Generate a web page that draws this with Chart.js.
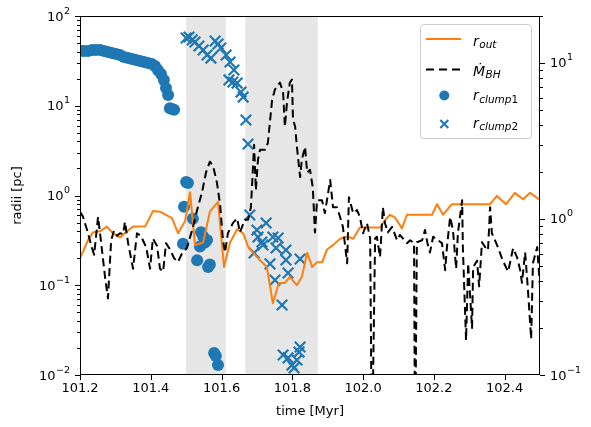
<!DOCTYPE html>
<html>
<head>
<meta charset="utf-8">
<script src="https://cdn.jsdelivr.net/npm/chart.js@4.4.0/dist/chart.umd.min.js"></script>
<style>
  html, body { margin: 0; padding: 0; background: #fff; }
  #wrap { width: 591px; height: 427px; position: relative; }
</style>
</head>
<body>
<div id="wrap"><canvas id="radiiChart"></canvas></div>
<script>
// Tick positions
const timeTicks = [101.2, 101.4, 101.6, 101.8, 102.0, 102.2, 102.4];
const radiusTicks = [0.01, 0.1, 1, 10, 100];
const mdotTicks = [0.1, 1, 10];

// Shaded intervals [Myr]
const shadeStart = [101.5, 101.667];
const shadeEnd = [101.612, 101.872];

// Outer radius r_out [pc]
const rOutTime = [101.200, 101.223, 101.237, 101.257, 101.276, 101.293, 101.313, 101.333, 101.350, 101.384,
    101.406, 101.426, 101.460, 101.477, 101.497, 101.511, 101.525, 101.548, 101.567, 101.590,
    101.607, 101.624, 101.644, 101.661, 101.675, 101.689, 101.709, 101.728, 101.745, 101.762,
    101.779, 101.793, 101.813, 101.827, 101.842, 101.856, 101.870, 101.884, 101.898, 101.915,
    101.935, 101.955, 101.972, 101.991, 102.048, 102.062, 102.076, 102.090, 102.110, 102.124,
    102.195, 102.209, 102.226, 102.251, 102.359, 102.378, 102.404, 102.429, 102.452, 102.472, 102.500];
const rOutValues = [0.20, 0.32, 0.39, 0.40, 0.45, 0.38, 0.34, 0.40, 0.45, 0.45,
    0.67, 0.66, 0.56, 0.38, 0.52, 1.09, 0.28, 0.30, 0.66, 0.85,
    0.16, 0.30, 0.42, 0.38, 0.27, 0.23, 0.19, 0.16, 0.063, 0.106,
    0.106, 0.124, 0.10, 0.124, 0.23, 0.16, 0.18, 0.18, 0.25, 0.28,
    0.33, 0.35, 0.33, 0.44, 0.44, 0.53, 0.61, 0.57, 0.43, 0.61,
    0.61, 0.80, 0.61, 0.80, 0.80, 0.99, 0.80, 1.07, 0.91, 1.07, 0.89];

// Black hole accretion rate (right axis)
const mdotTime = [101.200, 101.208, 101.220, 101.234, 101.240, 101.251, 101.259, 101.271, 101.279, 101.288,
    101.296, 101.305, 101.313, 101.322, 101.327, 101.336, 101.350, 101.361, 101.372, 101.387,
    101.398, 101.406, 101.418, 101.426, 101.435, 101.443, 101.454, 101.466, 101.477, 101.488,
    101.502, 101.517, 101.531, 101.545, 101.556, 101.567, 101.576, 101.587, 101.596, 101.604,
    101.610, 101.618, 101.632, 101.644, 101.652, 101.666, 101.675, 101.683, 101.689, 101.692,
    101.697, 101.703, 101.709, 101.723, 101.731, 101.743, 101.751, 101.765, 101.774, 101.779,
    101.785, 101.793, 101.799, 101.802, 101.808, 101.813, 101.822, 101.827, 101.836, 101.842,
    101.850, 101.858, 101.864, 101.870, 101.884, 101.892, 101.898, 101.907, 101.915, 101.926,
    101.935, 101.943, 101.955, 101.960, 101.972, 101.983, 101.991, 102.000, 102.011, 102.020,
    102.025, 102.034, 102.039, 102.048, 102.056, 102.062, 102.070, 102.082, 102.096, 102.104,
    102.124, 102.133, 102.144, 102.147, 102.152, 102.167, 102.175, 102.183, 102.189, 102.198,
    102.212, 102.223, 102.232, 102.237, 102.246, 102.254, 102.263, 102.268, 102.280, 102.282,
    102.291, 102.297, 102.308, 102.311, 102.322, 102.328, 102.336, 102.345, 102.353, 102.359,
    102.364, 102.373, 102.381, 102.395, 102.410, 102.424, 102.435, 102.444, 102.449, 102.458,
    102.466, 102.475, 102.480, 102.492, 102.500];
const mdotValues = [1.11, 1.04, 0.85, 0.65, 0.59, 1.03, 0.73, 0.42, 0.31, 0.73,
    0.84, 0.78, 0.81, 0.80, 0.96, 0.70, 0.48, 0.81, 0.78, 0.66,
    0.48, 0.75, 0.67, 0.48, 0.46, 0.70, 0.64, 0.56, 0.53, 0.60,
    0.65, 0.85, 1.14, 1.49, 1.98, 2.33, 2.19, 1.71, 1.23, 0.73,
    0.61, 0.81, 0.94, 1.01, 0.82, 0.99, 0.99, 1.19, 2.16, 2.99,
    1.53, 2.40, 2.78, 2.78, 3.08, 5.82, 6.76, 7.49, 6.46, 3.91,
    5.57, 7.49, 7.83, 4.33, 3.91, 2.90, 1.86, 2.40, 2.90, 1.98,
    2.07, 1.58, 0.82, 1.32, 1.32, 1.09, 1.32, 1.78, 1.19, 1.19,
    1.03, 0.89, 0.52, 1.38, 1.09, 1.14, 1.03, 0.81, 0.94, 0.75,
    0.03, 0.75, 0.77, 0.57, 1.19, 0.94, 0.82, 0.89, 0.73, 0.79,
    0.70, 0.73, 0.70, 0.03, 0.71, 0.73, 0.85, 0.68, 0.61, 0.77,
    0.73, 0.70, 0.47, 0.66, 1.03, 0.85, 0.48, 0.81, 1.32, 0.66,
    0.167, 0.52, 0.20, 0.49, 0.54, 0.37, 0.71, 0.66, 0.63, 1.19,
    0.81, 0.73, 0.66, 0.54, 0.46, 0.65, 0.57, 0.47, 0.39, 0.61,
    0.35, 0.17, 0.52, 0.66, 0.37];

// Clump 1 radius [pc]
const clump1Time = [101.200, 101.211, 101.223, 101.234, 101.245, 101.257, 101.268, 101.279, 101.290, 101.302,
    101.313, 101.324, 101.336, 101.347, 101.358, 101.370, 101.381, 101.392, 101.403, 101.412,
    101.420, 101.429, 101.437, 101.443, 101.449, 101.454, 101.460, 101.466,
    101.491, 101.494, 101.500, 101.505, 101.519, 101.531, 101.539, 101.542, 101.548, 101.553,
    101.559, 101.562, 101.567, 101.579, 101.584, 101.590];
const clump1Radius = [40.7, 40.7, 40.7, 41.8, 41.8, 41.8, 40.7, 39.7, 38.7, 37.7,
    36.8, 34.9, 34.0, 33.2, 32.3, 31.5, 30.7, 29.9, 29.2, 27.7,
    25.0, 22.6, 19.4, 15.8, 13.2, 9.4, 9.2, 9.0,
    0.29, 0.75, 1.41, 1.38, 0.55, 0.19, 0.27, 0.39, 0.35, 0.30,
    0.32, 0.16, 0.17, 0.0176, 0.0163, 0.0129];

// Clump 2 radius [pc]
const clump2Time = [101.500, 101.508, 101.517, 101.525, 101.536, 101.548, 101.559, 101.570, 101.582, 101.590,
    101.598, 101.613, 101.624, 101.635, 101.621, 101.632, 101.644, 101.655, 101.661, 101.669, 101.675,
    101.680, 101.692, 101.700, 101.703, 101.714, 101.717, 101.726, 101.737, 101.745, 101.751,
    101.754, 101.760, 101.771, 101.782, 101.782, 101.788, 101.822,
    101.774, 101.788, 101.799, 101.805, 101.813, 101.819, 101.822];
const clump2Radius = [56.9, 58.4, 54.1, 51.3, 46.3, 41.8, 36.8, 34.0, 52.6, 48.8,
    44.0, 36.8, 30.7, 25.0, 19.4, 18.4, 17.9, 14.2, 12.5, 6.94, 3.75,
    0.607, 0.229, 0.413, 0.345, 0.303, 0.281, 0.494, 0.173, 0.345, 0.114,
    0.260, 0.336, 0.0603, 0.247, 0.191, 0.137, 0.196,
    0.0167, 0.0155, 0.0129, 0.0120, 0.0147, 0.0180, 0.0205];

const FONT = "'DejaVu Sans', sans-serif";
const BLUE = '#1f77b4';
const ORANGE = '#ff7f0e';

const pairs = (xs, ys) => xs.map((x, i) => ({ x: x, y: ys[i] }));

// 2..9 times each decade between min and max
function minorLogTicks(majors, min, max) {
    const out = [];
    majors.forEach(m => {
        for (let k = 2; k < 10; k++) {
            const v = m * k;
            if (v >= min * 0.999 && v <= max * 1.001) out.push(v);
        }
    });
    return out;
}

// "10" with a raised exponent, like matplotlib log labels
function drawPower(ctx, v, x, y, align) {
    const e = Math.round(Math.log10(v));
    const exp = (e < 0 ? '\u2212' : '') + Math.abs(e);
    ctx.font = '13px ' + FONT;
    const wBase = ctx.measureText('10').width;
    ctx.font = '9.5px ' + FONT;
    const wExp = ctx.measureText(exp).width;
    const left = align === 'right' ? x - wBase - wExp - 0.5 : x;
    ctx.textAlign = 'left';
    ctx.textBaseline = 'alphabetic';
    ctx.font = '13px ' + FONT;
    ctx.fillText('10', left, y + 4.5);
    ctx.font = '9.5px ' + FONT;
    ctx.fillText(exp, left + wBase + 0.5, y - 2.5);
}

const shading = {
    id: 'shading',
    beforeDatasetsDraw(chart) {
        const { ctx, chartArea: a, scales } = chart;
        ctx.save();
        ctx.fillStyle = '#e6e6e6';
        shadeStart.forEach((s, i) => {
            const x0 = scales.x.getPixelForValue(s);
            const x1 = scales.x.getPixelForValue(shadeEnd[i]);
            ctx.fillRect(x0, a.top, x1 - x0, a.bottom - a.top);
        });
        ctx.restore();
    }
};

const frame = {
    id: 'frame',
    afterDatasetsDraw(chart) {
        const { ctx, chartArea: a, scales } = chart;
        const y = scales.y, y2 = scales.y2, x = scales.x;
        ctx.save();
        ctx.strokeStyle = '#000';
        ctx.fillStyle = '#000';
        ctx.lineWidth = 1;
        ctx.strokeRect(a.left + 0.5, a.top + 0.5, a.right - a.left - 1, a.bottom - a.top - 1);

        ctx.beginPath();
        timeTicks.forEach(v => {
            const px = Math.round(x.getPixelForValue(v)) + 0.5;
            ctx.moveTo(px, a.bottom); ctx.lineTo(px, a.bottom + 5);
        });
        radiusTicks.forEach(v => {
            const py = Math.round(y.getPixelForValue(v)) + 0.5;
            ctx.moveTo(a.left - 5, py); ctx.lineTo(a.left, py);
        });
        minorLogTicks(radiusTicks, 0.01, 100).forEach(v => {
            const py = Math.round(y.getPixelForValue(v)) + 0.5;
            ctx.moveTo(a.left - 3, py); ctx.lineTo(a.left, py);
        });
        mdotTicks.forEach(v => {
            const py = Math.round(y2.getPixelForValue(v)) + 0.5;
            ctx.moveTo(a.right, py); ctx.lineTo(a.right + 5, py);
        });
        minorLogTicks(mdotTicks, 0.1, 20).forEach(v => {
            const py = Math.round(y2.getPixelForValue(v)) + 0.5;
            ctx.moveTo(a.right, py); ctx.lineTo(a.right + 3, py);
        });
        ctx.stroke();

        radiusTicks.forEach(v => drawPower(ctx, v, a.left - 10, y.getPixelForValue(v), 'right'));
        mdotTicks.forEach(v => drawPower(ctx, v, a.right + 10, y2.getPixelForValue(v), 'left'));
        ctx.restore();
    }
};

// italic symbol with a smaller subscript
function mathLabel(ctx, main, subParts, x, base) {
    ctx.textAlign = 'left';
    ctx.textBaseline = 'alphabetic';
    ctx.font = 'italic 14px ' + FONT;
    ctx.fillText(main, x, base);
    let cx = x + ctx.measureText(main).width + 0.5;
    subParts.forEach(([txt, italic]) => {
        ctx.font = (italic ? 'italic ' : '') + '10.5px ' + FONT;
        ctx.fillText(txt, cx, base + 2.5);
        cx += ctx.measureText(txt).width;
    });
}

const legendBox = {
    id: 'legendBox',
    afterDraw(chart) {
        const { ctx, chartArea: a } = chart;
        const bx = a.right - 119.5, by = a.top + 8.5;
        ctx.save();
        ctx.beginPath();
        ctx.roundRect(bx, by, 111, 114, 3);
        ctx.fillStyle = 'rgba(255,255,255,0.8)';
        ctx.fill();
        ctx.strokeStyle = '#cccccc';
        ctx.lineWidth = 1;
        ctx.stroke();

        const h0 = bx + 5.5, h1 = bx + 40.5, mx = bx + 23.8, tx = bx + 52.5;

        ctx.strokeStyle = ORANGE;
        ctx.lineWidth = 2;
        ctx.beginPath(); ctx.moveTo(h0, by + 14.5); ctx.lineTo(h1, by + 14.5); ctx.stroke();

        ctx.strokeStyle = '#000';
        ctx.setLineDash([8, 5]);
        ctx.beginPath(); ctx.moveTo(h0, by + 45); ctx.lineTo(h1, by + 45); ctx.stroke();
        ctx.setLineDash([]);

        ctx.fillStyle = BLUE;
        ctx.beginPath(); ctx.arc(mx, by + 71, 5, 0, Math.PI * 2); ctx.fill();

        ctx.strokeStyle = BLUE;
        ctx.lineWidth = 2;
        ctx.beginPath();
        ctx.moveTo(mx - 4, by + 95.5); ctx.lineTo(mx + 4, by + 103.5);
        ctx.moveTo(mx - 4, by + 103.5); ctx.lineTo(mx + 4, by + 95.5);
        ctx.stroke();

        ctx.fillStyle = '#000';
        mathLabel(ctx, 'r', [['out', true]], tx, by + 21);
        mathLabel(ctx, '\u1E40', [['BH', true]], tx, by + 51);
        mathLabel(ctx, 'r', [['clump', true], ['1', false]], tx, by + 75.5);
        mathLabel(ctx, 'r', [['clump', true], ['2', false]], tx, by + 103);
        ctx.restore();
    }
};

new Chart(document.getElementById('radiiChart'), {
    type: 'scatter',
    data: {
        datasets: [
            {
                label: 'Mdot_BH',
                data: pairs(mdotTime, mdotValues),
                yAxisID: 'y2',
                showLine: true,
                borderColor: '#000',
                borderWidth: 2,
                borderDash: [8, 4.5],
                borderJoinStyle: 'round',
                pointRadius: 0,
                clip: 0
            },
            {
                label: 'r_out',
                data: pairs(rOutTime, rOutValues),
                yAxisID: 'y',
                showLine: true,
                borderColor: ORANGE,
                borderWidth: 2,
                borderJoinStyle: 'round',
                pointRadius: 0,
                clip: 0
            },
            {
                label: 'r_clump1',
                data: pairs(clump1Time, clump1Radius),
                yAxisID: 'y',
                pointStyle: 'circle',
                pointRadius: 6,
                backgroundColor: BLUE,
                borderWidth: 0,
                clip: 0
            },
            {
                label: 'r_clump2',
                data: pairs(clump2Time, clump2Radius),
                yAxisID: 'y',
                pointStyle: 'crossRot',
                pointRadius: 7.5,
                borderColor: BLUE,
                borderWidth: 2.2,
                clip: 0
            }
        ]
    },
    options: {
        responsive: true,
        maintainAspectRatio: false,
        animation: false,
        events: [],
        layout: { padding: { top: 16 } },
        plugins: { legend: { display: false }, tooltip: { enabled: false } },
        scales: {
            x: {
                type: 'linear',
                min: 101.2,
                max: 102.5,
                afterBuildTicks: s => { s.ticks = timeTicks.map(v => ({ value: v })); },
                afterFit: s => { s.height = 52; },
                grid: { display: false, drawTicks: false },
                border: { display: false },
                ticks: {
                    color: '#000',
                    font: { family: FONT, size: 13 },
                    padding: 6,
                    maxRotation: 0,
                    autoSkip: false,
                    callback: v => v.toFixed(1)
                },
                title: {
                    display: true,
                    text: 'time [Myr]',
                    color: '#000',
                    font: { family: FONT, size: 13 },
                    padding: { top: 0, bottom: 8 }
                }
            },
            y: {
                type: 'logarithmic',
                position: 'left',
                min: 0.01,
                max: 100,
                afterFit: s => { s.width = 80; },
                grid: { display: false, drawTicks: false },
                border: { display: false },
                ticks: { display: false },
                title: {
                    display: true,
                    text: 'radii [pc]',
                    color: '#000',
                    font: { family: FONT, size: 13 },
                    padding: { top: 10, bottom: 0 }
                }
            },
            y2: {
                type: 'logarithmic',
                position: 'right',
                min: 0.1,
                max: 20,
                afterFit: s => { s.width = 51; },
                grid: { display: false, drawTicks: false },
                border: { display: false },
                ticks: { display: false }
            }
        }
    },
    plugins: [shading, frame, legendBox]
});
</script>
</body>
</html>
